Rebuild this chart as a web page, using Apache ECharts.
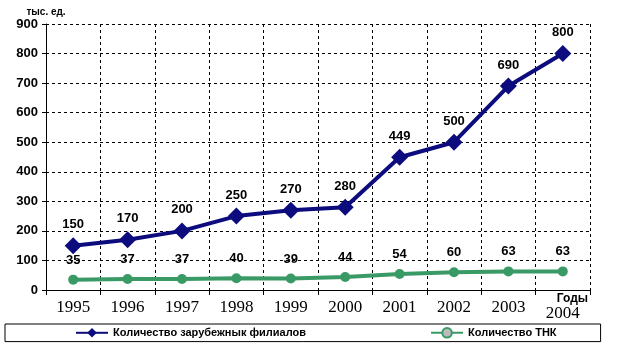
<!DOCTYPE html>
<html><head><meta charset="utf-8">
<script src="https://cdn.jsdelivr.net/npm/echarts@6/dist/echarts.min.js"></script>
<style>html,body{margin:0;padding:0;background:#fff}#c{width:636px;height:348px}</style>
</head><body><div id="c"></div>
<script>
const years = ['1995','1996','1997','1998','1999','2000','2001','2002','2003','2004'];
const affiliates = [150,170,200,250,270,280,449,500,690,800];
const tnc = [35,37,37,40,39,44,54,60,63,63];
const yTicks = [0,100,200,300,400,500,600,700,800,900];
const seriesNames = ['Количество зарубежнык филиалов','Количество ТНК'];

const sans = "'Liberation Sans',Arial,sans-serif";
const serif = "'Liberation Serif','Times New Roman',serif";
const navy = '#0c0c7e';
const green = '#3a9a66';
const chart = echarts.init(document.getElementById('c'));
chart.setOption({
  animation:false,
  backgroundColor:'#fff',
  grid:{left:46,right:46,top:24,bottom:58},
  xAxis:{
    type:'category', data:years, boundaryGap:true,
    name:'Годы', nameLocation:'end', nameGap:-2,
    nameTextStyle:{fontFamily:sans,fontWeight:'bold',fontSize:12,color:'#000',align:'right',verticalAlign:'top',padding:[3,0,0,0]},
    axisLine:{lineStyle:{color:'#000',width:1}},
    axisTick:{show:true,length:5,lineStyle:{color:'#000'}},
    axisLabel:{interval:0,fontFamily:serif,fontSize:17,color:'#000',margin:9,
      formatter:v=>v==='2004'?'{d|'+v+'}':v,
      rich:{d:{fontFamily:serif,fontSize:17,color:'#000',padding:[6,0,0,0]}}},
    splitLine:{show:true,interval:0,lineStyle:{color:'#000',type:[3,3],width:1}}
  },
  yAxis:{
    type:'value', min:yTicks[0], max:yTicks[yTicks.length-1], interval:100,
    name:'тыс. ед.', nameLocation:'end', nameGap:7,
    nameTextStyle:{fontFamily:sans,fontWeight:'bold',fontSize:10,color:'#000'},
    axisLine:{show:true,lineStyle:{color:'#000',width:1}},
    axisTick:{show:true,length:4,lineStyle:{color:'#000'}},
    axisLabel:{fontFamily:sans,fontWeight:'bold',fontSize:13,color:'#000',margin:8},
    splitLine:{show:true,lineStyle:{color:'#000',type:[3,3],width:1}}
  },
  legend:{
    left:5, top:324, orient:'horizontal',
    padding:[3,44,3,70], itemGap:124, itemWidth:32, itemHeight:12,
    borderColor:'#000', borderWidth:1, borderRadius:0,
    textStyle:{fontFamily:sans,fontWeight:'bold',fontSize:11,color:'#000'},
    data:[
      {name:seriesNames[0]},
      {name:seriesNames[1], itemStyle:{color:'#bbbbbb',borderColor:green,borderWidth:2}}
    ]
  },
  series:[
    {name:seriesNames[0], type:'line', data:affiliates,
     symbol:'diamond', symbolSize:17,
     lineStyle:{color:navy,width:4}, itemStyle:{color:navy},
     label:{show:true,position:'top',distance:6,fontFamily:sans,fontWeight:'bold',fontSize:13,color:'#000'}},
    {name:seriesNames[1], type:'line', data:tnc,
     symbol:'circle', symbolSize:10,
     lineStyle:{color:green,width:4}, itemStyle:{color:green},
     label:{show:true,position:'top',distance:8,fontFamily:sans,fontWeight:'bold',fontSize:13,color:'#000'}}
  ]
});
</script></body></html>
